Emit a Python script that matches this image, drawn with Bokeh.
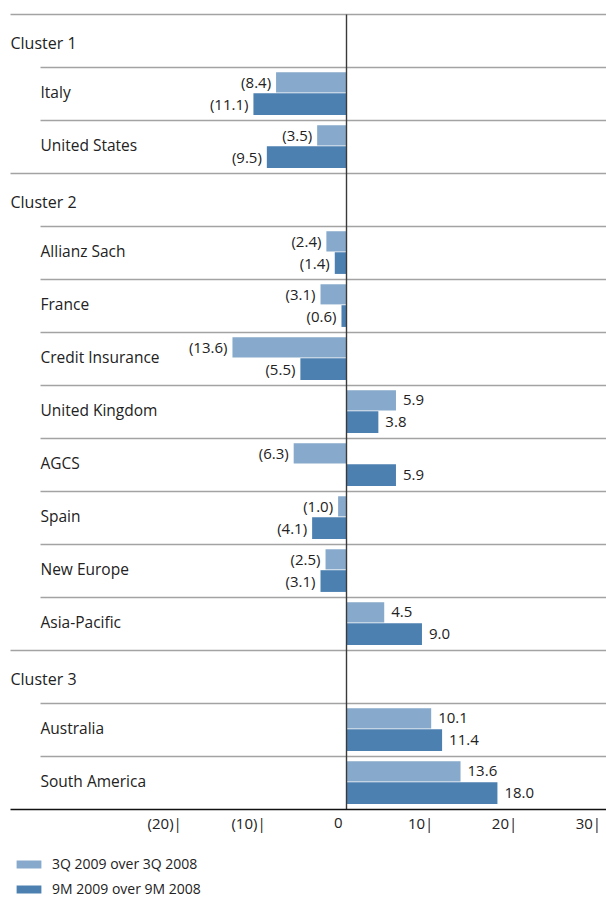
from bokeh.plotting import figure
from bokeh.models import ColumnDataSource, Range1d, Legend, LegendItem
from bokeh.core.properties import value
from bokeh.embed import file_html
from bokeh.resources import INLINE

# ---------------- data ----------------
clusters = ["Cluster 1", "Cluster 2", "Cluster 3"]
cluster_members = [
    ["Italy", "United States"],
    ["Allianz Sach", "France", "Credit Insurance", "United Kingdom", "AGCS",
     "Spain", "New Europe", "Asia-Pacific"],
    ["Australia", "South America"],
]
q3_values = [-8.4, -3.5,
             -2.4, -3.1, -13.6, 5.9, -6.3, -1.0, -2.5, 4.5,
             10.1, 13.6]
m9_values = [-11.1, -9.5,
             -1.4, -0.6, -5.5, 3.8, 5.9, -4.1, -3.1, 9.0,
             11.4, 18.0]
series_names = ["3Q 2009 over 3Q 2008", "9M 2009 over 9M 2008"]
tick_values = [-20, -10, 0, 10, 20, 30]
tick_labels = ["(20)|", "(10)|", "0", "10|", "20|", "30|"]

# ---------------- style ----------------
FONT = "Open Sans"
LIGHT = "#87a9cb"
DARK = "#4c80b1"
TEXT = "#222222"
GRID = "#a3a3a3"
W, H = 606, 897
ppu = 8.385
x_lo = -346 / ppu
x_hi = (W - 346) / ppu
row_px = 53.0
y_top = -14.0 / row_px
y_bot = (H - 14.0) / row_px


def fmt(v):
    return "(%.1f)" % abs(v) if v < 0 else "%.1f" % v


# ---------------- layout of rows ----------------
header_rows, header_names = [], []
cat_rows, cat_names = [], []
r = 0
for cname, members in zip(clusters, cluster_members):
    header_rows.append(r)
    header_names.append(cname)
    r += 1
    for m in members:
        cat_rows.append(r)
        cat_names.append(m)
        r += 1
n_rows = r

p = figure(width=W, height=H, output_backend="svg", toolbar_location=None,
           x_range=Range1d(x_lo, x_hi), y_range=Range1d(y_bot, y_top),
           min_border=0, outline_line_color=None)
p.xaxis.visible = False
p.yaxis.visible = False
p.xgrid.visible = False
p.ygrid.visible = False
p.background_fill_color = "white"
p.border_fill_color = "white"

# separators
full_x0 = x_lo + 10 / ppu
ind_x0 = x_lo + 40 / ppu
sx0, sy = [], []
for hr in header_rows:
    sx0.append(full_x0); sy.append(hr)
for cr in cat_rows:
    sx0.append(ind_x0); sy.append(cr)
p.segment(x0=sx0, y0=sy, x1=[x_hi] * len(sy), y1=sy,
          line_color=GRID, line_width=1.6)

# bars
light_src = ColumnDataSource(dict(y=[c + 0.28 for c in cat_rows], v=q3_values,
                                  lab=[fmt(v) for v in q3_values]))
dark_src = ColumnDataSource(dict(y=[c + 0.69 for c in cat_rows], v=m9_values,
                                 lab=[fmt(v) for v in m9_values]))
r_light = p.hbar(y="y", left=0, right="v", height=0.38, source=light_src,
                 fill_color=LIGHT, line_color=None)
r_dark = p.hbar(y="y", left=0, right="v", height=0.41, source=dark_src,
                fill_color=DARK, line_color=None)

# value labels
for vals, src in ((q3_values, light_src), (m9_values, dark_src)):
    src.data["align"] = ["right" if v < 0 else "left" for v in vals]
    src.data["xo"] = [-5 if v < 0 else 7 for v in vals]
    p.text(x="v", y="y", text="lab", source=src, text_align="align",
           x_offset="xo", text_baseline="middle", text_color=TEXT,
           text_font=value(FONT), text_font_size="15px")

# zero line
p.segment(x0=[0], y0=[0], x1=[0], y1=[n_rows], line_color="#3a3a3a",
          line_width=1.4)
# axis line
p.segment(x0=[full_x0], y0=[n_rows], x1=[x_hi], y1=[n_rows],
          line_color="#111111", line_width=1.6)

# headers and categories
p.text(x=[x_lo] * len(header_rows), y=[h + 0.54 for h in header_rows],
       text=header_names, x_offset=10, text_baseline="middle",
       text_color=TEXT, text_font=value(FONT), text_font_size="16px")
p.text(x=[x_lo] * len(cat_rows), y=[c + 0.47 for c in cat_rows],
       text=cat_names, x_offset=40, text_baseline="middle",
       text_color=TEXT, text_font=value(FONT), text_font_size="15.5px")

# tick labels
p.text(x=tick_values, y=[n_rows + 0.26] * len(tick_values), text=tick_labels,
       x_offset=[3 if "|" in t else -4 for t in tick_labels],
       text_align="right", text_baseline="middle", text_color=TEXT,
       text_font=value(FONT), text_font_size="15px")

# legend
legend = Legend(items=[LegendItem(label=series_names[0], renderers=[r_light]),
                       LegendItem(label=series_names[1], renderers=[r_dark])],
                location=(13, -1), orientation="vertical", padding=0, margin=0,
                glyph_width=31, glyph_height=10, label_height=14, spacing=6,
                label_standoff=8, border_line_color=None,
                background_fill_alpha=0, label_text_font=FONT,
                label_text_font_size="14px", label_text_color=TEXT)
p.add_layout(legend, "center")

open("out.html", "w").write(file_html(p, INLINE))
